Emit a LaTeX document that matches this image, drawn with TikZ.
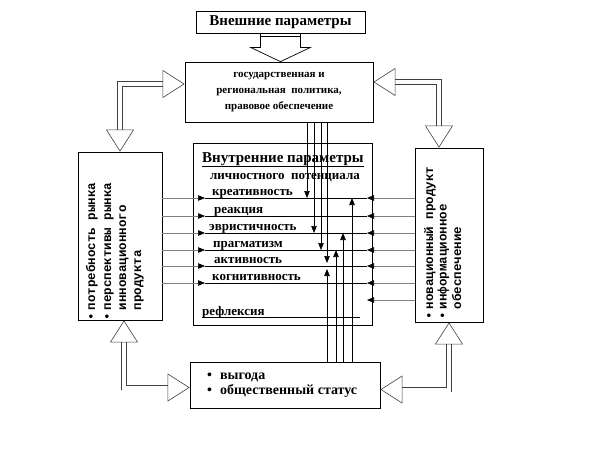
\documentclass[tikz,border=0pt]{standalone}
\usepackage{fontspec}
\setmainfont{Liberation Serif}
\setmonofont{Liberation Mono}
\usetikzlibrary{arrows.meta}
\usetikzlibrary{calc}
\usetikzlibrary{positioning}

\begin{document}
\begin{tikzpicture}[
  x=1pt, y=-1pt,
  > = {Triangle[length=7pt,width=5.5pt,black]},
  box/.style = {draw, line width=0.8pt, inner sep=0pt},
  head/.style = {font=\bfseries\fontsize{11}{16}\selectfont, align=center},
  item/.style = {anchor=base west, inner sep=0pt, font=\bfseries\fontsize{13}{15}\selectfont},
  side/.style = {rotate=90, anchor=base west, inner sep=0pt, font=\ttfamily\bfseries\fontsize{12.5}{15}\selectfont},
  link/.style = {line width=0.6pt},
  hollow/.style = {draw=black!75, line width=0.6pt, double=white, double distance=4pt,
    arrows={Triangle[open,length=22pt,width=28pt]-Triangle[open,length=22pt,width=28pt]}}
  ]
  \useasboundingbox (0,0) rectangle (595,453);

  % boxes
  \node[box, minimum width=169pt, minimum height=22pt, font=\bfseries\fontsize{15}{15}\selectfont] (ext) at (280.5,22) {Внешние параметры};
  \node[box, minimum width=188pt, minimum height=60pt, head] (pol) at (279,92) {государственная и\\региональная\ \ политика,\\правовое обеспечение};
  \node[box, minimum width=179pt, minimum height=182pt] (inn) at (282.5,234) {};
  \node[box, minimum width=84pt, minimum height=168pt] (lft) at (120,236) {};
  \node[box, minimum width=68pt, minimum height=174pt] (rgt) at (449,235) {};
  \node[box, minimum width=190pt, minimum height=46pt] (bot) at (285,385.5) {};

  % fat arrow from the top
  \draw[line width=0.7pt] ($(ext.south)+(-20,0)$) -- ++(0,14) -- ++(-10,0) -- (ext.south |- pol.north)
    -- ($(ext.south)+(30,14)$) -- ++(-10,0) -- ++(0,-14);
  \draw[line width=0.8pt] ($(ext.south)+(-20,3)$) -- ++(40,0);

  % hollow arrows round the middle
  \coordinate (pw) at ($(pol.west)+(0,-8)$);
  \coordinate (pe) at ($(pol.east)+(0,-10)$);
  \coordinate (rn) at ($(rgt.north)+(-10,0)$);
  \coordinate (ls) at ($(lft.south)+(4,0)$);
  \coordinate (bw) at ($(bot.west)+(0,2)$);
  \coordinate (be) at ($(bot.east)+(0,4)$);
  \draw[hollow] (pw) -| (lft.north);
  \draw[hollow] (pe) -| (rn);
  \draw[hollow] (ls) |- (bw);
  \draw[hollow] (rgt.south) |- (be);

  % inner parameters
  \node[item, font=\bfseries\fontsize{15}{15}\selectfont] (ttl) at (202,162) {\underline{Внутренние параметры}};
  \node[item] (sub) at (210,179) {личностного\ \ потенциала};
  \node[item] (kre) at (212,195.5) {креативность};
  \node[item] (rea) at (214,213.5) {реакция};
  \node[item] (evr) at (209,230.5) {эвристичность};
  \node[item] (pra) at (213,247.5) {прагматизм};
  \node[item] (akt) at (214,263.5) {активность};
  \node[item] (kog) at (212,280.5) {когнитивность};
  \node[item] (ref) at (202,315) {рефлексия};
  \draw[line width=1pt] (ref.base west) ++(0,2) -- (360,317);

  % side texts
  \node[side] (lt1) at (95,321) {\textbullet\hspace{3pt}потребность рынка};
  \node[side] (lt2) at (111,321) {\textbullet\hspace{3pt}перспективы рынка};
  \node[side] (lt3) at (126,321) {\hspace{10.5pt}инновационного};
  \node[side] (lt4) at (141,321) {\hspace{10.5pt}продукта};
  \node[side] (rt1) at (433,320) {\textbullet\hspace{3pt}новационный продукт};
  \node[side] (rt2) at (446.5,320) {\textbullet\hspace{3pt}информационное};
  \node[side] (rt3) at (461,320) {\hspace{10.5pt}обеспечение};

  % benefits
  \node[item, font=\bfseries\fontsize{14}{15}\selectfont] (gain) at (207,379) {\textbullet\hspace{8pt}выгода};
  \node[item, font=\bfseries\fontsize{14}{15}\selectfont] (stat) at (207,394) {\textbullet\hspace{8pt}общественный статус};

  % horizontal links
  \foreach \y [count=\i] in {198,216,233,250,266,283} {
    \coordinate (pl\i) at (205,\y);
    \coordinate (pr\i) at (367,\y);
    \draw[link, gray, ->] (lft.east |- pl\i) -- (pl\i);
    \draw[link] (pl\i) -- (pr\i);
    \draw[link, gray, ->] (rgt.west |- pr\i) -- (pr\i);
  }
  \coordinate (pr7) at (367,300);
  \draw[link, gray, ->] (rgt.west |- pr7) -- (pr7);

  % vertical links
  \foreach \x/\y [count=\i] in {307/198, 314/233, 321/250, 327/263} {
    \coordinate (dn\i) at (\x,\y);
    \draw[link, ->] (pol.south -| dn\i) -- (dn\i);
  }
  \foreach \x/\y [count=\i] in {327/269, 336/250, 343/233, 352/198} {
    \coordinate (up\i) at (\x,\y);
    \draw[link, ->] (bot.north -| up\i) -- (up\i);
  }

\end{tikzpicture}
\end{document}
